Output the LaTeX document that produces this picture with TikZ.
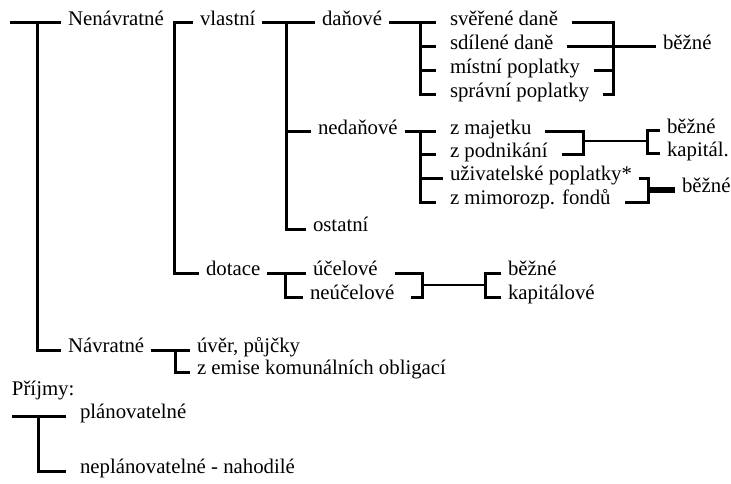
\documentclass[tikz,border=0pt]{standalone}
\usepackage{fontspec}
\setmainfont{Liberation Serif}

\begin{document}
\begin{tikzpicture}[x=1pt, y=-1pt,
	lbl/.style={anchor=west, inner sep=0pt, outer xsep=7pt, text height=1.5ex, text depth=.3ex, font=\fontsize{20.8}{24}\selectfont},
	lblw/.style={lbl, outer xsep=14pt},
	brk/.style={line width=3pt},
	link/.style={line width=2pt},
	bar/.style={line width=5.5pt}]
	\useasboundingbox (0,0) rectangle (731,484);

	\path (61,23) node[lbl] (nen){Nenávratné}
		(193,23) node[lbl] (vla){vlastní}
		(315,23) node[lbl] (dan){daňové}
		(436,23) node[lblw] (sve){svěřené daně}
		(436,47) node[lblw] (sdi){sdílené daně}
		(436,71) node[lblw] (mis){místní poplatky}
		(436,95) node[lblw] (spr){správní poplatky}
		(656,47) node[lbl] (bez1){běžné};

	\path (311,132) node[lbl] (ned){nedaňové}
		(436,132) node[lblw] (zmaj){z majetku}
		(436,155) node[lblw] (zpod){z podnikání}
		(443,178) node[lbl] (uzi){uživatelské poplatky*}
		(436,202) node[lblw] (zmim){z mimorozp. fondů}
		(660,131) node[lbl] (bez2){běžné}
		(660,154) node[lbl] (kap){kapitál.}
		(675,190) node[lbl] (bez3){běžné}
		(306,229) node[lbl] (ost){ostatní};

	\path (199,273) node[lbl] (dot){dotace}
		(306,273) node[lbl] (uce){účelové}
		(303,297) node[lbl] (neu){neúčelové}
		(501,273) node[lbl] (bez4){běžné}
		(501,297) node[lbl] (kapv){kapitálové};

	\path (61,350) node[lbl] (nav){Návratné}
		(190,350) node[lbl] (uver){úvěr, půjčky}
		(190,372) node[lbl] (zem){z emise komunálních obligací}
		(5,393) node[lbl] (pri){Příjmy:}
		(66,416) node[lblw] (pla){plánovatelné}
		(66,471) node[lblw] (nep){neplánovatelné - nahodilé};

	\coordinate (m0) at (10,23);
	\coordinate (m1) at (37,23);
	\coordinate (v1) at (174,150);
	\coordinate (v2) at (286,23);
	\coordinate (d1) at (420,23);
	\coordinate (d2) at (613,60);
	\coordinate (n1) at (420,132);
	\coordinate (n2) at (583,141);
	\coordinate (n3) at (647,141);
	\coordinate (n4) at (648,190);
	\coordinate (t1) at (285,273);
	\coordinate (t2) at (422,285);
	\coordinate (t3) at (485,285);
	\coordinate (r1) at (175,350);
	\coordinate (p0) at (12,416);
	\coordinate (p1) at (38,416);

	\draw[brk] (m0) -- (nen);
	\draw[brk] (m1) |- (nav);
	\draw[brk] (vla) -| (v1) |- (dot);
	\draw[brk] (vla) -- (dan);
	\draw[brk] (v2) |- (ost);
	\draw[brk] (v2 |- ned) -- (ned);

	\draw[brk] (dan) -- (sve);
	\draw[brk] (d1) |- (spr);
	\draw[brk] (d1 |- sdi) -- (sdi);
	\draw[brk] (d1 |- mis) -- (mis);
	\draw[brk] (sve) -| (d2) |- (spr);
	\draw[brk] (mis) -- (d2 |- mis);
	\draw[brk] (sdi) -- (bez1);

	\draw[brk] (ned) -- (zmaj);
	\draw[brk] (n1) |- (zmim);
	\draw[brk] (n1 |- zpod) -- (zpod);
	\draw[brk] (n1 |- uzi) -- (uzi);
	\draw[brk] (zmaj) -| (n2) |- (zpod);
	\draw[link] (n2) -- (n3);
	\draw[brk] (bez2) -| (n3) |- (kap);
	\draw[brk] (uzi) -| (n4) |- (zmim);
	\draw[bar] (n4) -- (bez3);

	\draw[brk] (dot) -- (uce);
	\draw[brk] (t1) |- (neu);
	\draw[brk, shorten <=10pt, shorten >=10pt] (uce) -| (t2) |- (neu);
	\draw[link] (t2) -- (t3);
	\draw[brk] (bez4) -| (t3) |- (kapv);

	\draw[brk] (nav) -- (uver);
	\draw[brk] (r1) |- (zem);
	\draw[brk] (p0) -- (pla);
	\draw[brk] (p1) |- (nep);
\end{tikzpicture}
\end{document}
